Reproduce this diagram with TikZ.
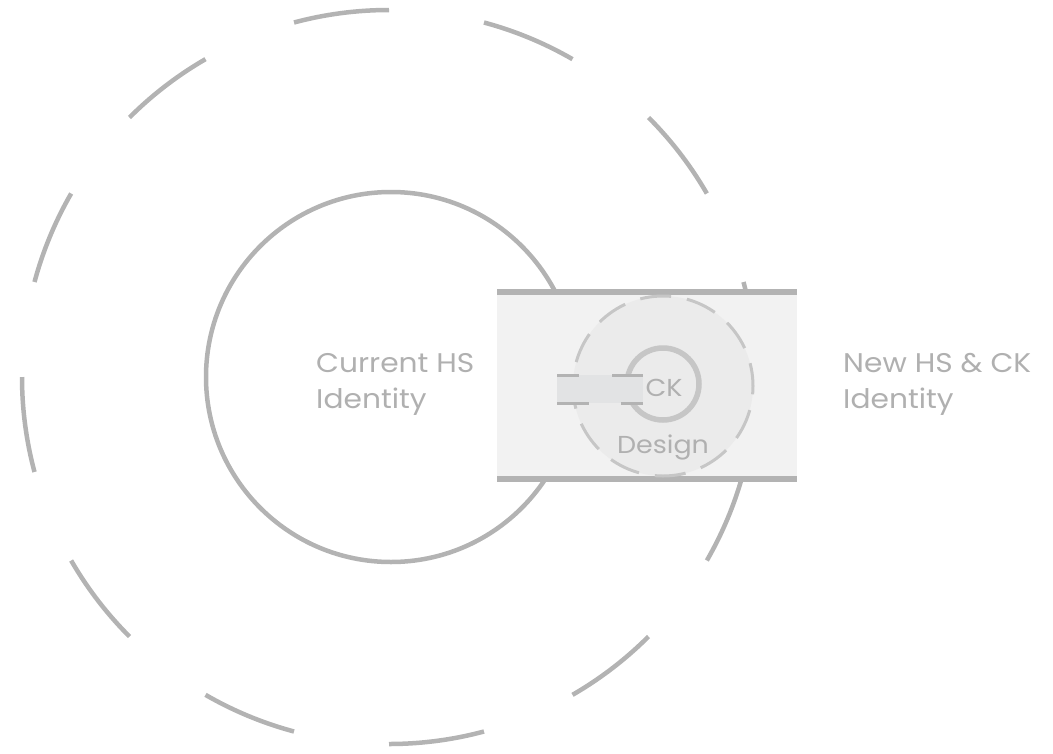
\documentclass[tikz,border=0pt]{standalone}
\usepackage{fontspec}
\setmainfont{Poppins}[FakeStretch=1.1]
\definecolor{strokegray}{HTML}{B3B3B3}
\definecolor{lightstroke}{HTML}{C6C6C6}
\definecolor{txtgray}{HTML}{B0B0B0}
\definecolor{bandfill}{HTML}{F2F2F2}
\definecolor{innerfill}{HTML}{EBEBEB}
\definecolor{smallfill}{HTML}{E2E3E4}
\tikzset{
  bigdash/.style={draw=strokegray, line width=4.5pt},
  solidring/.style={draw=strokegray, line width=4.5pt},
  bandline/.style={draw=strokegray, line width=6pt},
  label/.style={text=txtgray, font=\fontsize{27}{32}\selectfont, inner sep=0pt, anchor=base west},
  innerlabel/.style={text=txtgray, font=\fontsize{24.5}{30}\selectfont, inner sep=0pt, anchor=base},
}
\begin{document}
\begin{tikzpicture}[x=1pt,y=-1pt]
\useasboundingbox (0,0) rectangle (1053,753);
% centres
\coordinate (cbig) at (389,377);
\coordinate (ccur) at (391,377);
\coordinate (cin) at (663,386);
\coordinate (csm) at (663,384);
% big dashed circle (12 arcs)
\foreach \a in {0,30,...,330}{
  \draw[bigdash] ([shift={(\a:367 and -367)}]cbig) arc[start angle=-\a, end angle=-\a-15, radius=367];
}
% solid circle
\node[solidring, circle, minimum size=370pt, inner sep=0pt] (cur) at (ccur) {};
% band
\coordinate (bandtl) at (497,292);
\coordinate (bandbr) at (797,479);
\fill[bandfill] (bandtl) rectangle (bandbr);
\coordinate (bandtr) at (797,292);
\coordinate (bandbl) at (497,479);
\draw[bandline] (bandtl) -- (bandtr);
\draw[bandline] (bandbl) -- (bandbr);
% inner dashed circle
\node[circle, fill=innerfill, draw=lightstroke, line width=3pt, minimum size=180pt, inner sep=0pt,
      dash pattern=on 31pt off 16.1pt, dash phase=8pt] (inner) at (cin) {};
% small ring
\node[circle, draw=lightstroke, line width=5.5pt, minimum size=72pt, inner sep=0pt] (ring) at (csm) {};
% small rectangle
\coordinate (srtl) at (557,375);
\coordinate (srbr) at (643,403);
\fill[smallfill] (srtl) rectangle (srbr);
\coordinate (t1) at (557,375); \coordinate (t2) at (579,375);
\coordinate (t3) at (612,375); \coordinate (t4) at (643,375);
\coordinate (b1) at (557,403); \coordinate (b2) at (589,403);
\coordinate (b3) at (621,403); \coordinate (b4) at (643,403);
\draw[strokegray, line width=3pt] (t1) -- (t2) (t3) -- (t4) (b1) -- (b2) (b3) -- (b4);
% labels
\node[label] (cur1) at (316,372) {Current HS};
\node[label] (cur2) at (316,408) {Identity};
\node[label] (new1) at (843,372) {New HS \& CK};
\node[label] (new2) at (843,408) {Identity};
\node[innerlabel] (ck) at (664,396) {CK};
\node[innerlabel] (design) at (663,453) {Design};
\end{tikzpicture}
\end{document}
